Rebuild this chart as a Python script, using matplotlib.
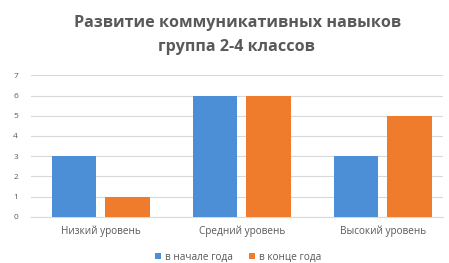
import matplotlib
matplotlib.use("Agg")
import matplotlib.pyplot as plt
import numpy as np

categories = ["Низкий уровень", "Средний уровень", "Высокий уровень"]
series_names = ["в начале года", "в конце года"]
start_values = [3, 6, 3]
end_values = [1, 6, 5]
y_ticks = [0, 1, 2, 3, 4, 5, 6, 7]

plt.rcParams['font.family'] = ['Open Sans', 'DejaVu Sans']

fig = plt.figure(figsize=(4.49, 2.63), dpi=100)
W, H = 449, 263
left_px, right_px = 30.5, 443
bottom_px, top_px = 216.7, 75.3
ax = fig.add_axes([left_px / W, 1 - bottom_px / H, (right_px - left_px) / W, (bottom_px - top_px) / H])

x = np.arange(len(categories))
bw = 0.316
off = 0.19
blue = "#4c8fd6"
orange = "#ef7b2c"
ax.bar(x - off, start_values, bw, color=blue, label=series_names[0], zorder=3)
ax.bar(x + off, end_values, bw, color=orange, label=series_names[1], zorder=3)

ax.set_xlim(-0.5, 2.5 - (453 - 443) / 141)
ax.set_ylim(0, 7)
ax.set_yticks(y_ticks)
ax.yaxis.grid(True, color="#d9d9d9", linewidth=0.8, zorder=0)
ax.set_xticks(x)
ax.set_xticklabels(categories, fontsize=7.2)
for s in ax.spines.values():
    s.set_visible(False)
ax.spines['bottom'].set_visible(True)
ax.spines['bottom'].set_color("#d9d9d9")
ax.tick_params(axis='both', length=0, colors="#595959")
ax.tick_params(axis='y', pad=9, labelsize=6)
ax.tick_params(axis='x', pad=6)

fig.text(238 / W, 1 - 23 / H, "Развитие коммуникативных навыков", ha='center', va='center',
         fontsize=11.6, fontweight='bold', color="#595959")
fig.text(236 / W, 1 - 47 / H, "группа 2-4 классов", ha='center', va='center',
         fontsize=11.6, fontweight='bold', color="#595959")

leg = fig.legend(loc='center', bbox_to_anchor=(238 / W, 1 - 257 / H), ncol=2, frameon=False,
                 fontsize=7.2, handlelength=0.6, handleheight=0.6, handletextpad=0.4, columnspacing=1.6)
for t in leg.get_texts():
    t.set_color("#595959")

fig.savefig("out.png", dpi=100)
